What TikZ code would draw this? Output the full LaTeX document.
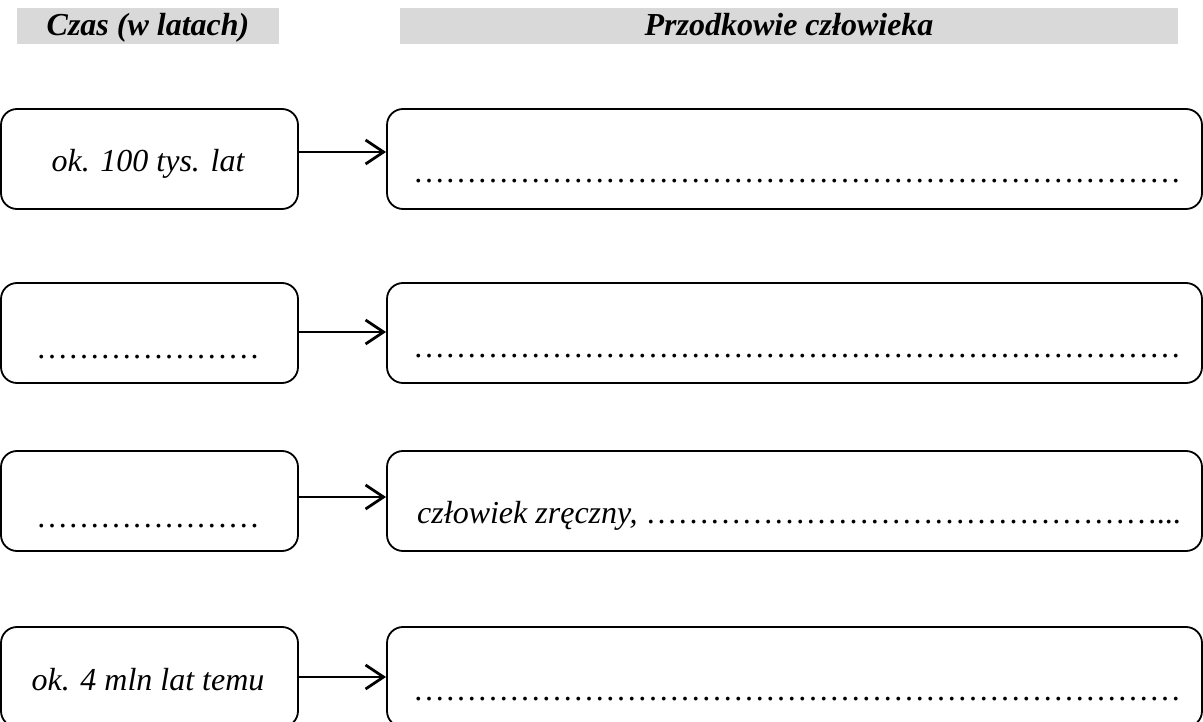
\documentclass[tikz,border=0pt]{standalone}
\usepackage{fontspec}
\setmainfont{Liberation Serif}
\usetikzlibrary{arrows.meta}
\definecolor{hdrgray}{HTML}{D9D9D9}
\newcommand\dotrun[1]{{\upshape\foreach \k in {1,...,#1}{…}}}
\begin{document}
\begin{tikzpicture}[x=1pt,y=-1pt,
  box/.style={draw, line width=1.8pt, rounded corners=16pt, minimum width=#1, minimum height=100pt, inner sep=0pt},
  hdr/.style={fill=hdrgray, minimum width=#1, minimum height=36pt, inner sep=0pt},
  txt/.style={anchor=base, inner sep=0pt, font=\fontsize{32}{38}\selectfont\itshape},
  htxt/.style={anchor=base, inner sep=0pt, font=\fontsize{32}{38}\selectfont\bfseries\itshape},
  ltxt/.style={anchor=base west, inner sep=0pt, font=\fontsize{32}{38}\selectfont\itshape},
  arr/.style={line width=2pt, -{Straight Barb[length=18pt,width=24pt,line width=2.8pt]}}
]
\useasboundingbox (0,0) rectangle (1203,722);
% headers
\node[hdr=262pt] (h1) at (148,26) {};
\node[hdr=778pt] (h2) at (789,26) {};
\node[htxt] (h1t) at (148,36) {Czas (w latach)};
\node[htxt] (h2t) at (789,36) {Przodkowie człowieka};
% left boxes
\node[box=297pt] (l1) at (149.5,159) {};
\node[box=297pt] (l2) at (149.5,333) {};
\node[box=297pt] (l3) at (149.5,501) {};
\node[box=297pt] (l4) at (149.5,677) {};
% right boxes
\node[box=815pt] (r1) at (794.5,159) {};
\node[box=815pt] (r2) at (794.5,333) {};
\node[box=815pt] (r3) at (794.5,501) {};
\node[box=815pt] (r4) at (794.5,677) {};
% left texts
\node[txt] (lt1) at (148,172) {ok. 100 tys. lat};
\node[txt] (lt2) at (148,359) {\dotrun{7}};
\node[txt] (lt3) at (148,527) {\dotrun{7}};
\node[txt] (lt4) at (148,690) {ok. 4 mln lat temu};
% right texts
\node[ltxt] (rt1) at (413,183) {\dotrun{24}};
\node[ltxt] (rt2) at (413,357) {\dotrun{24}};
\node[ltxt] (rt3) at (417,523) {człowiek zręczny, \dotrun{16}...};
\node[ltxt] (rt4) at (413,700) {\dotrun{24}};
% arrows
\draw[arr] ([yshift=7pt]l1.east) -- ([yshift=7pt]r1.west);
\draw[arr] ([yshift=1pt]l2.east) -- ([yshift=1pt]r2.west);
\draw[arr] ([yshift=4pt]l3.east) -- ([yshift=4pt]r3.west);
\draw[arr] (l4.east) -- (r4.west);
\end{tikzpicture}
\end{document}
